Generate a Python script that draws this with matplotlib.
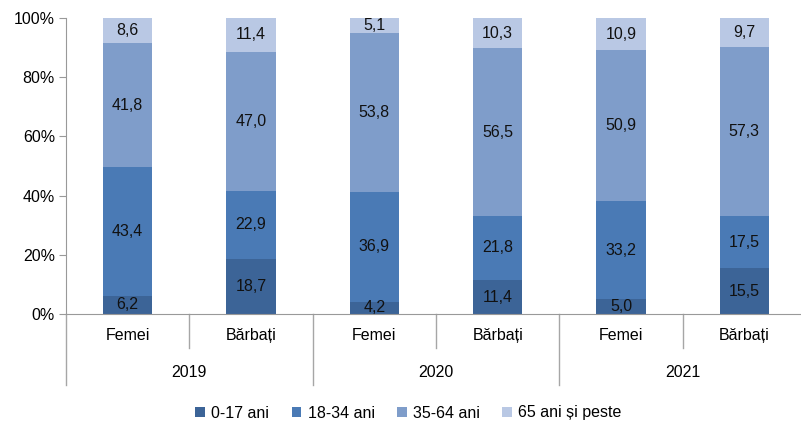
import numpy as np
import matplotlib
matplotlib.use("Agg")
from matplotlib import pyplot as plt
import matplotlib.transforms as mtrans

plt.rcParams['font.family'] = ['Liberation Sans', 'DejaVu Sans']

years = ["2019", "2020", "2021"]
sexes = ["Femei", "Bărbați"]
groups = ["0-17 ani", "18-34 ani", "35-64 ani", "65 ani și peste"]

# order: Femei 2019, Barbati 2019, Femei 2020, Barbati 2020, Femei 2021, Barbati 2021
age_0_17 = [6.2, 18.7, 4.2, 11.4, 5.0, 15.5]
age_18_34 = [43.4, 22.9, 36.9, 21.8, 33.2, 17.5]
age_35_64 = [41.8, 47.0, 53.8, 56.5, 50.9, 57.3]
age_65 = [8.6, 11.4, 5.1, 10.3, 10.9, 9.7]

colors = ["#3c6497", "#4a7ab5", "#7f9dca", "#b9c8e4"]
fs = 11.5

fig = plt.figure(figsize=(8.01, 4.29), dpi=100)
ax = fig.add_axes([66/801, 1-314/429, 740/801, 296/429])

x = np.arange(6) + 0.5
bottom = np.zeros(6)
for vals, col, lab in zip([age_0_17, age_18_34, age_35_64, age_65], colors, groups):
    v = np.array(vals)
    ax.bar(x, v, 0.4, bottom=bottom, color=col, label=lab, edgecolor='none')
    for xi, b, vi in zip(x, bottom, v):
        ax.text(xi, b + vi/2, f"{vi:.1f}".replace(".", ","), ha='center', va='center',
                fontsize=fs, color='#111111')
    bottom += v

ax.set_xlim(0, 6)
ax.set_ylim(0, 100)
ax.set_yticks(np.arange(0, 101, 20))
ax.set_yticklabels([f"{t}%" for t in range(0, 101, 20)], fontsize=fs)
ax.tick_params(axis='y', length=5, color='#999999', pad=3)
ax.set_xticks([])
for s in ['top', 'right']:
    ax.spines[s].set_visible(False)
ax.spines['left'].set_color('#999999')
ax.spines['bottom'].set_color('#999999')

tr = mtrans.blended_transform_factory(ax.transData, ax.transAxes)
# category labels
for i, xi in enumerate(x):
    ax.text(xi, -0.071, sexes[i % 2], transform=tr, ha='center', va='center',
            fontsize=fs, clip_on=False)
for j, yr in enumerate(years):
    ax.text(2*j + 1, -0.196, yr, transform=tr, ha='center', va='center',
            fontsize=fs, clip_on=False)
# separators
for k in range(7):
    low = -0.24 if k % 2 == 0 else -0.115
    ax.plot([k, k], [0, low], transform=tr, color='#a6a6a6', lw=1, clip_on=False)

fig.legend(loc='center', bbox_to_anchor=(0.51, 1-413/429), ncol=4, frameon=False,
           fontsize=fs, handlelength=0.6, handleheight=0.6, handletextpad=0.4,
           columnspacing=1.4)

fig.savefig("out.png", dpi=100)
